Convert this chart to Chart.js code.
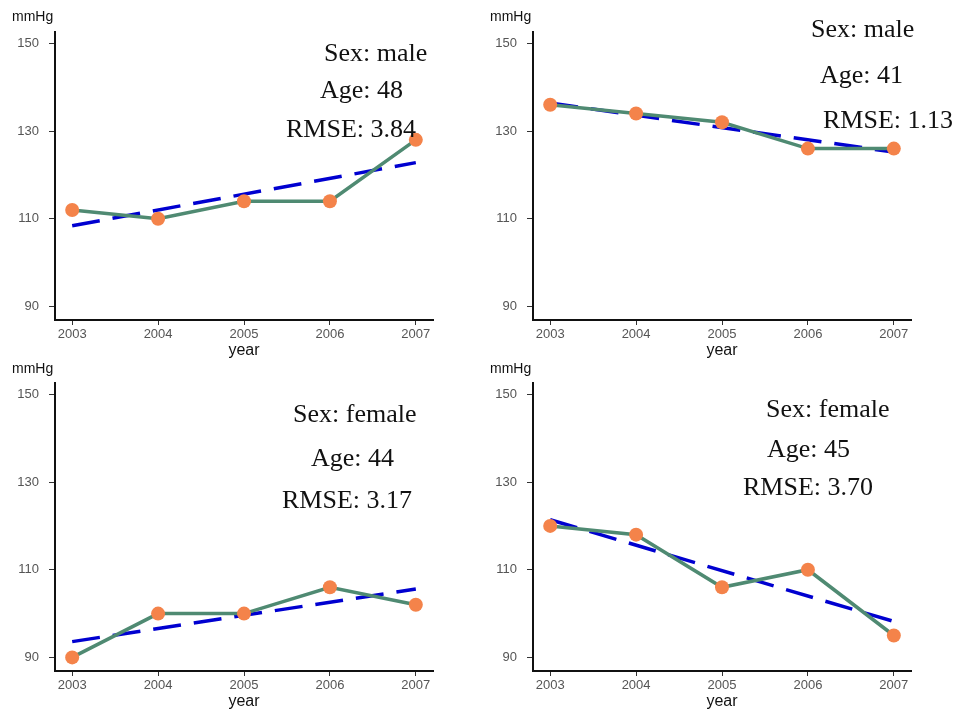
<!DOCTYPE html>
<html>
<head>
<meta charset="utf-8">
<script src="https://cdn.jsdelivr.net/npm/chart.js@4/dist/chart.umd.min.js"></script>
<style>
  body { margin: 0; background: #fff; }
  canvas { position: absolute; }
</style>
</head>
<body>
<canvas id="p1" width="481" height="360" style="left:0;top:0"></canvas>
<canvas id="p2" width="481" height="360" style="left:478px;top:0"></canvas>
<canvas id="p3" width="481" height="360" style="left:0;top:351px"></canvas>
<canvas id="p4" width="481" height="360" style="left:478px;top:351px"></canvas>
<script>
// datos
const years = [2003, 2004, 2005, 2006, 2007];
const yTicks = [90, 110, 130, 150];
const bpMale48 = [112, 110, 114, 114, 128];
const bpMale41 = [136, 134, 132, 126, 126];
const bpFemale44 = [90, 100, 100, 106, 102];
const bpFemale45 = [120, 118, 106, 110, 95];
const trendYears = [2003, 2007];
const trendMale48 = [108.4, 122.8];
const trendMale41 = [136.4, 125.2];
const trendFemale44 = [93.6, 105.6];
const trendFemale45 = [121.4, 98.2];
const sexLabels = ["Sex: male", "Sex: male", "Sex: female", "Sex: female"];
const ageLabels = ["Age: 48", "Age: 41", "Age: 44", "Age: 45"];
const rmseLabels = ["RMSE: 3.84", "RMSE: 1.13", "RMSE: 3.17", "RMSE: 3.70"];

const GREEN = "#4f8a72";
const ORANGE = "#f4834a";
const BLUE = "#0000d0";

// posiciones de los textos, relativas a cada canvas: [x, baseline]
const panels = [
  { id: "p1", bp: bpMale48, trend: trendMale48, unitY: 21,
    text: [[324, 61], [320, 98], [286, 137]] },
  { id: "p2", bp: bpMale41, trend: trendMale41, unitY: 21,
    text: [[333, 37], [342, 83], [345, 128]] },
  { id: "p3", bp: bpFemale44, trend: trendFemale44, unitY: 22,
    text: [[293, 71], [311, 115], [282, 157]] },
  { id: "p4", bp: bpFemale45, trend: trendFemale45, unitY: 22,
    text: [[288, 66], [289, 106], [265, 144]] },
];

function toXY(xs, ys) {
  return xs.map((x, i) => ({ x: x, y: ys[i] }));
}

function panelTextPlugin(idx, cfg) {
  return {
    id: "panelText",
    afterDraw(chart) {
      const ctx = chart.ctx;
      ctx.save();
      ctx.fillStyle = "#111";
      ctx.textBaseline = "middle";
      ctx.textAlign = "left";
      ctx.font = "14px 'Liberation Sans', Arial, sans-serif";
      ctx.fillText("mmHg", 12, cfg.unitY - 4);
      ctx.font = "26px 'Liberation Serif', 'Times New Roman', serif";
      ctx.textBaseline = "alphabetic";
      const lines = [sexLabels[idx], ageLabels[idx], rmseLabels[idx]];
      lines.forEach((t, i) => ctx.fillText(t, cfg.text[i][0], cfg.text[i][1]));
      ctx.restore();
    },
  };
}

panels.forEach((cfg, idx) => {
  const ctx = document.getElementById(cfg.id).getContext("2d");
  new Chart(ctx, {
    type: "line",
    data: {
      datasets: [
        {
          label: "tendencia",
          data: toXY(trendYears, cfg.trend),
          borderColor: BLUE,
          borderWidth: 3.5,
          borderDash: [28, 13],
          pointRadius: 0,
          fill: false,
          order: 2,
        },
        {
          label: "mmHg",
          data: toXY(years, cfg.bp),
          borderColor: GREEN,
          borderWidth: 3.5,
          pointBackgroundColor: ORANGE,
          pointBorderColor: ORANGE,
          pointRadius: 7,
          pointBorderWidth: 0,
          tension: 0,
          fill: false,
          order: 1,
        },
      ],
    },
    options: {
      responsive: false,
      animation: false,
      layout: { padding: { top: 32, right: 48, left: 0, bottom: 0 } },
      plugins: {
        legend: { display: false },
        tooltip: { enabled: false },
      },
      scales: {
        x: {
          type: "linear",
          min: 2002.8,
          max: 2007.2,
          afterBuildTicks: (s) => { s.ticks = years.map((v) => ({ value: v })); },
          afterFit: (s) => { s.height = 40; },
          ticks: {
            color: "#555",
            padding: 2,
            font: { family: "'Liberation Sans', Arial, sans-serif", size: 13 },
            callback: (v) => String(v),
          },
          grid: { drawOnChartArea: false, tickLength: 5, color: "#333" },
          border: { display: true, color: "#111", width: 2 },
          title: {
            display: true,
            text: "year",
            color: "#111",
            padding: 0,
            font: { family: "'Liberation Sans', Arial, sans-serif", size: 16 },
          },
        },
        y: {
          min: 86.9,
          max: 152.6,
          afterBuildTicks: (s) => { s.ticks = yTicks.map((v) => ({ value: v })); },
          afterFit: (s) => { s.width = 55; },
          ticks: {
            color: "#555",
            padding: 10,
            font: { family: "'Liberation Sans', Arial, sans-serif", size: 13 },
          },
          grid: { drawOnChartArea: false, tickLength: 6, color: "#333" },
          border: { display: true, color: "#111", width: 2 },
        },
      },
    },
    plugins: [panelTextPlugin(idx, cfg)],
  });
});
</script>
</body>
</html>
